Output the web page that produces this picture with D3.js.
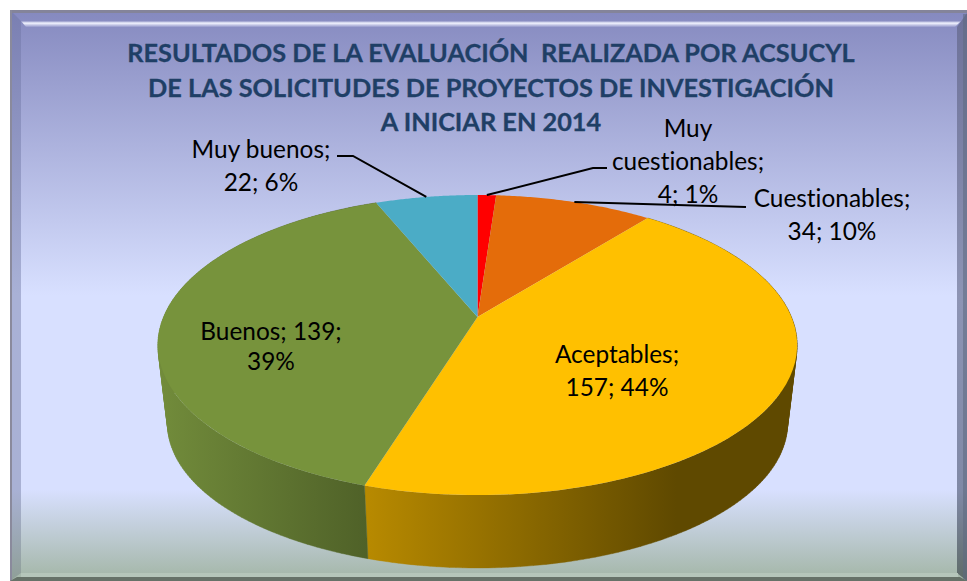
<!DOCTYPE html>
<html><head><meta charset="utf-8">
<script src="https://cdn.jsdelivr.net/npm/d3@7/dist/d3.min.js"></script>
<style>html,body{margin:0;padding:0;background:#fff}svg{display:block}text{font-family:Lato,"Open Sans",sans-serif;white-space:pre;font-variant-ligatures:none}</style>
</head><body><div id="c"></div>
<script>
(function(){
const categories=["Muy cuestionables","Cuestionables","Aceptables","Buenos","Muy buenos"];
const values=[4,34,157,139,22];
const percents=["1%","10%","44%","39%","6%"];
const colors=["#ff0000","#e46c0a","#ffc000","#77933c","#4bacc6"];
const titleLines=["RESULTADOS DE LA EVALUACIÓN  REALIZADA POR ACSUCYL","DE LAS SOLICITUDES DE PROYECTOS DE INVESTIGACIÓN","A INICIAR EN 2014"];
const labelLines=[["Muy","cuestionables;","4; 1%"],["Cuestionables;","34; 10%"],["Aceptables;","157; 44%"],["Buenos; 139;","39%"],["Muy buenos;","22; 6%"]];

const W=967,H=581;
const svg=d3.select("#c").append("svg").attr("width",W).attr("height",H);
const defs=svg.append("defs");

// panel
const bg=defs.append("linearGradient").attr("id","bg").attr("x1",0).attr("x2",0).attr("y1",0).attr("y2",1);
[[0,"#8589bf"],[.5,"#d8e0ff"],[.84,"#d8e0ff"],[.99,"#a6b8ab"]].forEach(s=>bg.append("stop").attr("offset",s[0]).attr("stop-color",s[1]));
const P={x0:10,y0:10,x1:967,y1:581};
svg.append("rect").attr("x",P.x0).attr("y",P.y0).attr("width",P.x1-P.x0).attr("height",P.y1-P.y0).attr("fill","url(#bg)");
const lv=defs.append("linearGradient").attr("id","lv").attr("x1",0).attr("x2",0).attr("y1",0).attr("y2",1);
[[0,"#7a7fb2"],[.5,"#a9b1d6"],[.84,"#a9b1d4"],[1,"#8f9f97"]].forEach(s=>lv.append("stop").attr("offset",s[0]).attr("stop-color",s[1]));
const rv=defs.append("linearGradient").attr("id","rv").attr("x1",0).attr("x2",0).attr("y1",0).attr("y2",1);
[[0,"#6d7199"],[.5,"#8d94b4"],[.84,"#8089a6"],[1,"#5e6b68"]].forEach(s=>rv.append("stop").attr("offset",s[0]).attr("stop-color",s[1]));
const poly=d3.line();
svg.append("path").attr("d",poly([[P.x0,P.y0],[21,21],[21,573],[P.x0,P.y1]])+"Z").attr("fill","url(#lv)");
svg.append("path").attr("d",poly([[P.x1,13],[957,27],[957,573],[P.x1,P.y1]])+"Z").attr("fill","url(#rv)");
svg.append("rect").attr("x",P.x0).attr("y",P.y0).attr("width",P.x1-P.x0).attr("height",3).attr("fill","#84849a");
svg.append("rect").attr("x",P.x0).attr("y",P.y0).attr("width",2).attr("height",P.y1-P.y0).attr("fill","#8a8a9c");
svg.append("rect").attr("x",963).attr("y",14).attr("width",4).attr("height",P.y1-14).attr("fill","#5f6a80").attr("opacity",.55);
const hl=defs.append("linearGradient").attr("id","hl").attr("x1",0).attr("x2",0).attr("y1",0).attr("y2",1);
[[0,"#8f93c6"],[.35,"#f2f4ff"],[1,"#9498cb"]].forEach(s=>hl.append("stop").attr("offset",s[0]).attr("stop-color",s[1]));
svg.append("path").attr("d",poly([[21,21],[961,21],[955,27],[26,27]])+"Z").attr("fill","url(#hl)");
svg.append("rect").attr("x",21).attr("y",573).attr("width",937).attr("height",4).attr("fill","#b5c6ba");
svg.append("path").attr("d",poly([[10,581],[17,577],[960,577],[967,581]])+"Z").attr("fill","#667268");

// pie geometry: projective view of a disc
const pie=d3.pie().value(d=>d).sort(null)(values);
const K=0.187, faceTop={cx:477.5,cy:317,rx:314,ry:144.8}, faceBot={cx:477.5,cy:397,rx:304.5,ry:139};
const proj=(a,e)=>{const u=Math.sin(a),v=Math.cos(a),d=1+K*v;return [e.cx+e.rx*u/d,e.cy-e.ry*v/d];};
const arcPts=(a0,a1,e)=>d3.range(0,61).map(i=>proj(a0+(a1-a0)*i/60,e));

// walls, built from small quads so the silhouette is the hull of both discs
const wallStops={2:["#b88a00","#5f4900"],3:["#728c3b","#4f6128"]};
const wallRange={2:[365,797],3:[158,368]};
[2,3].forEach(i=>{
  const id="w"+i;
  const g=defs.append("linearGradient").attr("id",id).attr("gradientUnits","userSpaceOnUse")
    .attr("x1",wallRange[i][0]).attr("x2",wallRange[i][1]).attr("y1",0).attr("y2",0);
  const st=i===2?[[0,wallStops[2][0]],[.72,wallStops[2][1]],[1,wallStops[2][1]]]:[[0,wallStops[3][0]],[1,wallStops[3][1]]];
  st.forEach(s=>g.append("stop").attr("offset",s[0]).attr("stop-color",s[1]));
  const a=pie[i];
  const n=160,dPath=[];
  for(let k=0;k<n;k++){
    const a0=a.startAngle+(a.endAngle-a.startAngle)*k/n,a1=a.startAngle+(a.endAngle-a.startAngle)*(k+1)/n;
    const quad=[proj(a0,faceTop),proj(a1,faceTop),proj(a1,faceBot),proj(a0,faceBot)];
    if(d3.polygonArea(quad)<0)quad.reverse();
    dPath.push(poly(quad)+"Z");
  }
  svg.append("path").attr("d",dPath.join("")).attr("fill",`url(#${id})`).attr("stroke",`url(#${id})`).attr("stroke-width",.4);
});
// top face
svg.append("g").selectAll("path").data(pie).join("path")
  .attr("d",d=>poly([[faceTop.cx,faceTop.cy],...arcPts(d.startAngle,d.endAngle,faceTop)])+"Z")
  .attr("fill",(d,i)=>colors[i]);

// leaders
const mid=d=>(d.startAngle+d.endAngle)/2;
const leaderLayout=[{i:0,pts:[[607,168],[593,168]]},{i:1,pts:[[746,207]]},{i:4,pts:[[337,156],[353,156]]}];
svg.append("g").selectAll("path").data(leaderLayout).join("path")
  .attr("d",l=>poly([...l.pts,proj(mid(pie[l.i]),faceTop)]))
  .attr("fill","none").attr("stroke","#000").attr("stroke-width",2);

// title
const titleY=[62,97,131],titleX=[491,491,491];
svg.append("g").selectAll("text").data(titleLines).join("text")
  .attr("x",(d,i)=>titleX[i]).attr("y",(d,i)=>titleY[i]).attr("text-anchor","middle")
  .attr("font-size",25.3).attr("font-weight",700).attr("stroke","#1f3f66").attr("stroke-width",.3).attr("fill","#1f3f66").text(d=>d);

// labels
const labelLayout=[{x:688,y:[137,170,203]},{x:832,y:[207,240]},{x:617,y:[363,396]},{x:271,y:[340,370]},{x:261,y:[158,191]}];
labelLines.forEach((lines,i)=>{
  svg.append("g").selectAll("text").data(lines).join("text")
   .attr("x",labelLayout[i].x).attr("y",(d,j)=>labelLayout[i].y[j]).attr("text-anchor","middle")
   .attr("font-size",24.4).attr("fill","#000").text(d=>d);
});
})();
</script></body></html>
